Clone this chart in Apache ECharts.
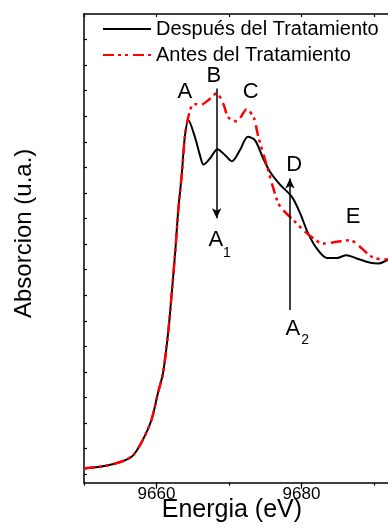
<!DOCTYPE html>
<html>
<head>
<meta charset="utf-8">
<script src="https://cdn.jsdelivr.net/npm/echarts@6/dist/echarts.min.js"></script>
<style>html,body{margin:0;padding:0;background:#fff;}#c{width:388px;height:529px;}</style>
</head>
<body>
<div id="c"></div>
<script>
// ---- data ----
const energyBlack = [9650.0, 9652.8, 9655.4, 9656.8, 9658.1, 9659.3, 9660.2, 9660.9, 9661.6, 9662.1, 9662.6, 9663.0, 9663.5, 9663.9, 9664.4, 9665.3, 9666.0, 9666.5, 9667.4, 9668.4, 9669.5, 9670.4, 9671.5, 9672.6, 9673.6, 9674.7, 9675.7, 9677.0, 9678.7, 9679.8, 9680.9, 9682.1, 9683.5, 9684.9, 9686.2, 9687.6, 9689.5, 9690.6, 9691.8, 9693.0];
const absBlack = [0.023, 0.032, 0.052, 0.075, 0.134, 0.212, 0.318, 0.396, 0.552, 0.708, 0.876, 1.032, 1.177, 1.318, 1.384, 1.319, 1.247, 1.211, 1.236, 1.271, 1.247, 1.224, 1.267, 1.320, 1.306, 1.236, 1.181, 1.134, 1.084, 1.021, 0.943, 0.883, 0.846, 0.846, 0.857, 0.844, 0.827, 0.824, 0.837, 0.850];
const energyRed = [9650.0, 9652.8, 9655.4, 9656.8, 9658.1, 9659.3, 9660.2, 9660.9, 9661.6, 9662.1, 9662.6, 9663.0, 9663.5, 9663.9, 9664.2, 9664.9, 9665.5, 9666.0, 9667.1, 9668.3, 9669.2, 9669.9, 9671.1, 9671.7, 9672.4, 9673.4, 9674.0, 9675.0, 9676.1, 9676.8, 9677.5, 9678.9, 9680.3, 9681.4, 9683.0, 9684.9, 9686.7, 9688.1, 9689.7, 9691.3, 9693.0];
const absRed = [0.023, 0.032, 0.052, 0.075, 0.134, 0.212, 0.318, 0.396, 0.552, 0.708, 0.876, 1.032, 1.177, 1.318, 1.373, 1.443, 1.447, 1.443, 1.462, 1.489, 1.450, 1.396, 1.380, 1.400, 1.427, 1.396, 1.325, 1.228, 1.120, 1.060, 1.032, 0.993, 0.954, 0.928, 0.902, 0.909, 0.915, 0.889, 0.850, 0.840, 0.845];
const seriesNames = ['Después del Tratamiento', 'Antes del Tratamiento'];
const xTickLabels = [9660, 9680];
const yTicks = [0, 0.1, 0.2, 0.3, 0.4, 0.5, 0.6, 0.7, 0.8, 0.9, 1.0, 1.1, 1.2, 1.3, 1.4, 1.5, 1.6, 1.7];
const letterText = ['A', 'B', 'C', 'D', 'E', 'A', 'A'];
const letterX = [9663.9, 9667.9, 9673.0, 9679.0, 9687.1, 9668.2, 9678.8];
const letterY = [1.496, 1.558, 1.496, 1.209, 1.005, 0.915, 0.568];
const subText = ['1', '2'];
const subX = [9669.7, 9680.5];
const subY = [0.865, 0.525];
const arrowX = [9668.3, 9678.4];
const arrowFrom = [1.509, 0.642];
const arrowTo = [1.001, 1.157];

const FF = '"Liberation Sans", Arial, Helvetica, sans-serif';
const pairs = (xs, ys) => xs.map((x, i) => [x, ys[i]]);

const chart = echarts.init(document.getElementById('c'), null, {renderer: 'canvas'});
chart.setOption({
  animation: false,
  backgroundColor: '#fff',
  textStyle: {fontFamily: FF},
  grid: {left: 84, top: 14, width: 311.75, height: 468.7, containLabel: false, outerBoundsMode: 'none'},
  legend: {
    data: seriesNames,
    orient: 'vertical',
    left: 97, top: 14,
    itemWidth: 48, itemHeight: 20, itemGap: 6,
    itemStyle: {opacity: 0},
    textStyle: {fontSize: 20, color: '#000', fontFamily: FF}
  },
  xAxis: [
    {
      type: 'value', min: 9650, max: 9693, position: 'bottom',
      axisLine: {onZero: false, lineStyle: {color: '#000', width: 1.5}},
      axisTick: {customValues: xTickLabels, length: 6, lineStyle: {color: '#000', width: 1.2}},
      axisLabel: {customValues: xTickLabels, formatter: v => String(v), fontSize: 17, color: '#000', margin: 3, fontFamily: FF},
      splitLine: {show: false},
      name: 'Energia (eV)', nameLocation: 'middle', nameGap: 15, nameMoveOverlap: false,
      nameTextStyle: {fontSize: 25, color: '#000', fontFamily: FF, padding: [0, 16, 0, 0]}
    },
    {
      type: 'value', min: 9650, max: 9693, interval: 10, position: 'bottom',
      axisLine: {show: false, onZero: false},
      axisTick: {length: 3, lineStyle: {color: '#000', width: 1.2}},
      axisLabel: {show: false}, splitLine: {show: false}
    },
    {
      type: 'value', min: 9650, max: 9693, interval: 10, position: 'top',
      axisLine: {onZero: false, lineStyle: {color: '#000', width: 1.5}},
      axisTick: {inside: true, length: 3, lineStyle: {color: '#000', width: 1.2}},
      axisLabel: {show: false}, splitLine: {show: false}
    }
  ],
  yAxis: [{
    type: 'value', min: -0.033, max: 1.8,
    axisLine: {show: true, onZero: false, lineStyle: {color: '#000', width: 1.5}},
    axisTick: {show: true, inside: true, length: 3, customValues: yTicks, lineStyle: {color: '#000', width: 1.2}},
    axisLabel: {show: false},
    splitLine: {show: false},
    name: 'Absorcion (u.a.)', nameLocation: 'middle', nameGap: 48,
    nameTextStyle: {fontSize: 24, color: '#000', fontFamily: FF, padding: [0, 0, 0, 30]}
  }],
  series: [
    {
      name: seriesNames[0], type: 'line', data: pairs(energyBlack, absBlack),
      smooth: 0.3, symbol: 'none', showSymbol: false, z: 3,
      lineStyle: {color: '#000', width: 2}, itemStyle: {color: '#000'}
    },
    {
      name: seriesNames[1], type: 'line', data: pairs(energyRed, absRed),
      smooth: 0.3, symbol: 'none', showSymbol: false, z: 4,
      lineStyle: {color: '#ff0000', width: 2.5, type: [11, 4, 3, 4, 3, 5]}, itemStyle: {color: '#ff0000'}
    },
    {
      name: 'labels', type: 'scatter', symbolSize: 0, z: 5, silent: true,
      itemStyle: {opacity: 1, color: '#000'},
      data: letterText.map((t, i) => ({name: t, value: [letterX[i], letterY[i]]})),
      label: {show: true, position: 'inside', formatter: p => p.name, fontSize: 22, color: '#000', opacity: 1, fontFamily: FF},
      markLine: {
        silent: true, symbol: ['none', 'arrow'], symbolSize: [7, 10], precision: 3,
        label: {show: false},
        lineStyle: {color: '#000', width: 1.5, type: 'solid', opacity: 1},
        emphasis: {disabled: true},
        data: arrowX.map((x, i) => [{coord: [x, arrowFrom[i]]}, {coord: [x, arrowTo[i]]}])
      }
    },
    {
      name: 'subs', type: 'scatter', symbolSize: 0, z: 5, silent: true,
      itemStyle: {opacity: 1, color: '#000'},
      data: subText.map((t, i) => ({name: t, value: [subX[i], subY[i]]})),
      label: {show: true, position: 'inside', formatter: p => p.name, fontSize: 14, color: '#000', opacity: 1, fontFamily: FF}
    }
  ]
});
</script>
</body>
</html>
